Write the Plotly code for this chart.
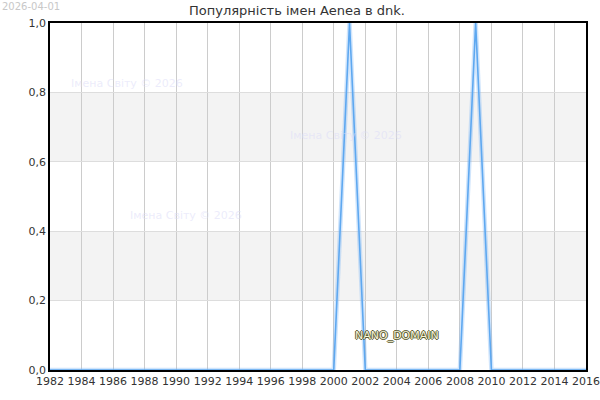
import plotly.graph_objects as go

years = list(range(1982, 2017))
popularity = [0, 0, 0, 0, 0, 0, 0, 0, 0, 0,
              0, 0, 0, 0, 0, 0, 0, 0, 0, 1,
              0, 0, 0, 0, 0, 0, 0, 1, 0, 0,
              0, 0, 0, 0, 0]
x_ticks = list(range(1982, 2017, 2))
y_ticks = [0, 0.2, 0.4, 0.6, 0.8, 1.0]

title = "Популярність імен Aenea в dnk."
watermark = "Імена Світу © 2026"
stamp = "2026-04-01"

fig = go.Figure()

# glow under the line
fig.add_trace(go.Scatter(x=years, y=popularity, mode="lines",
                         line=dict(color="rgba(120,180,245,0.35)", width=4.5),
                         hoverinfo="skip", showlegend=False))
fig.add_trace(go.Scatter(x=years, y=popularity, mode="lines",
                         line=dict(color="#5ea8f0", width=1.6),
                         showlegend=False))

# alternating bands
for lo, hi in [(0.2, 0.4), (0.6, 0.8)]:
    fig.add_shape(type="rect", xref="paper", x0=0, x1=1, y0=lo, y1=hi,
                  fillcolor="#f3f3f3", line_width=0, layer="below")

font = "DejaVu Sans, sans-serif"

for xp, yp in [(0.144, 0.827), (0.553, 0.677), (0.254, 0.444)]:
    fig.add_annotation(xref="paper", yref="paper", x=xp, y=yp, text=watermark,
                       showarrow=False, xanchor="center", yanchor="middle",
                       font=dict(family=font, size=11, color="rgba(220,220,248,0.55)"))

fig.add_annotation(x=2004, y=0.1, text="NANO_DOMAIN", showarrow=False,
                   xanchor="center", yanchor="middle",
                   font=dict(family=font, size=11, color="#f4f2d6",
                             shadow="1px 0 0 #5a5a30, -1px 0 0 #5a5a30, 0 1px 0 #5a5a30, 0 -1px 0 #5a5a30"))

fig.add_annotation(xref="paper", yref="paper", x=-0.094, y=1.068, text=stamp,
                   showarrow=False, xanchor="left", yanchor="top",
                   font=dict(family=font, size=10, color="#c8c8c8"))

fig.update_layout(
    width=600, height=400,
    margin=dict(l=50, r=14, t=23, b=30),
    paper_bgcolor="white", plot_bgcolor="white",
    separators=", ",
    title=dict(text=title, x=0.495, xanchor="center", y=0.985, yanchor="top",
               font=dict(family=font, size=13, color="#333")),
    font=dict(family=font, size=11, color="#333"),
    xaxis=dict(range=[1982, 2016], tickvals=x_ticks, showgrid=True,
               gridcolor="#cccccc", gridwidth=1, zeroline=False, automargin=False,
               showline=True, linecolor="black", linewidth=1.5, mirror=True,
               ticks="", tickfont=dict(size=11, color="#333")),
    yaxis=dict(range=[0, 1], tickvals=y_ticks, tickformat=".1f", showgrid=True,
               gridcolor="#dddddd", gridwidth=1, zeroline=False, automargin=False,
               showline=True, linecolor="black", linewidth=1.5, mirror=True,
               ticks="", tickfont=dict(size=11, color="#333")),
)

# page body has a default 8px margin; drop it so the figure sits at 0,0
fig.write_html("out.html", config={"displayModeBar": False},
               post_script="document.body.style.margin='0';")
